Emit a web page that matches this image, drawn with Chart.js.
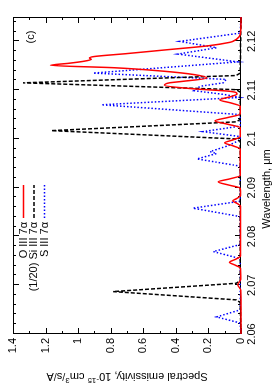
<!DOCTYPE html>
<html>
<head>
<meta charset="utf-8">
<script src="https://cdn.jsdelivr.net/npm/chart.js@4.4.1/dist/chart.umd.min.js"></script>
<style>
  html, body { margin: 0; padding: 0; background: #fff; }
  #page { position: relative; width: 274px; height: 390px; overflow: hidden; }
  /* the plot is drawn landscape and turned a quarter turn counter-clockwise */
  #wrap { position: absolute; left: 0; top: 0; width: 390px; height: 274px;
          transform-origin: 0 0; transform: translateY(390px) rotate(-90deg); }
</style>
</head>
<body>
<div id="page"><div id="wrap"><canvas id="chart" width="390" height="274"></canvas></div></div>
<script>
// axis ticks
const xTicks = [2.06, 2.07, 2.08, 2.09, 2.10, 2.11, 2.12];
const yTicks = [0, 0.2, 0.4, 0.6, 0.8, 1.0, 1.2, 1.4];

// O III 7alpha
const oWave = [2.0600, 2.0690, 2.0701, 2.0712, 2.0735, 2.0741, 2.0747, 2.0753, 2.0760,
  2.0862, 2.0868, 2.0873, 2.0878, 2.0884, 2.0899, 2.0905, 2.0912, 2.0918, 2.0925,
  2.0979, 2.0986, 2.0992, 2.0998, 2.1005, 2.1023, 2.1030, 2.1037, 2.1044, 2.1051,
  2.1067, 2.1074, 2.1080, 2.1087, 2.1092, 2.1095, 2.1098, 2.1103, 2.1110, 2.1115,
  2.1118, 2.1125, 2.1132, 2.1139, 2.1146, 2.1151, 2.1155, 2.1159, 2.1163, 2.1166,
  2.1169, 2.1175, 2.1183, 2.1191, 2.1198, 2.1200, 2.1210, 2.1218, 2.1250];
const oValue = [0, 0.002, 0.02, 0.002, 0.003, 0.035, 0.07, 0.035, 0.003,
  0.003, 0.025, 0.05, 0.025, 0.003, 0.005, 0.07, 0.14, 0.07, 0.005,
  0.004, 0.05, 0.10, 0.05, 0.004, 0.005, 0.08, 0.16, 0.08, 0.005,
  0.005, 0.065, 0.13, 0.06, 0.025, 0.03, 0.08, 0.30, 0.47, 0.44,
  0.36, 0.21, 0.29, 0.48, 0.78, 1.17, 1.06, 0.97, 0.92, 0.93,
  0.90, 0.70, 0.45, 0.20, 0.07, 0.05, 0.01, 0.003, 0];

// Si III 7alpha, scaled by 1/20
const siWave = [2.0600, 2.0665, 2.0670, 2.0687, 2.0704, 2.0709,
  2.0995, 2.1000, 2.1017, 2.1035, 2.1040,
  2.1096, 2.1101, 2.1115, 2.1130, 2.1135, 2.1250];
const siValue = [0, 0.005, 0.03, 0.786, 0.03, 0.005,
  0.005, 0.03, 1.165, 0.03, 0.005,
  0.005, 0.03, 1.338, 0.03, 0.005, 0];

// S III 7alpha
const sWave = [2.0600, 2.0621, 2.0623, 2.0635, 2.0649, 2.0652,
  2.0753, 2.0755, 2.0769, 2.0783, 2.0786,
  2.0838, 2.0841, 2.0858, 2.0872, 2.0875,
  2.0943, 2.0945, 2.0959, 2.0970, 2.0974, 2.0986, 2.0998,
  2.1003, 2.1005, 2.1015, 2.1026, 2.1028,
  2.1048, 2.1050, 2.1070, 2.1085, 2.1091, 2.1099, 2.1108, 2.1115, 2.1122,
  2.1135, 2.1158, 2.1174, 2.1187, 2.1200, 2.1217, 2.1250];
const sValue = [0, 0.005, 0.01, 0.15, 0.01, 0.005,
  0.005, 0.01, 0.17, 0.01, 0.005,
  0.005, 0.01, 0.295, 0.01, 0.005,
  0.005, 0.02, 0.27, 0.15, 0.19, 0.08, 0.005,
  0.005, 0.01, 0.233, 0.01, 0.005,
  0.005, 0.01, 0.857, 0.01, 0.10, 0.29, 0.25, 0.11, 0.09,
  0.908, 0.02, 0.387, 0.15, 0.376, 0.005, 0];

const FONT = '"Liberation Sans", Arial, sans-serif';
const xMinorStep = 0.002;
const yMinorStep = 0.1;

function toPoints(xs, ys) {
  return xs.map((x, i) => ({ x: x, y: ys[i] }));
}

function fmt(v) {
  return String(+v.toFixed(3));
}

// gnuplot style border with inward ticks on all four sides
const frame = {
  id: 'frame',
  beforeDatasetsDraw(chart) {
    const { ctx, chartArea: a, scales } = chart;
    const x = scales.x, y = scales.y;
    ctx.save();
    ctx.strokeStyle = '#000';
    ctx.lineWidth = 1;
    ctx.strokeRect(a.left + 0.5, a.top + 0.5, a.right - a.left - 1, a.bottom - a.top - 1);
    ctx.beginPath();
    for (let i = 0; ; i++) {
      const v = x.min + i * xMinorStep;
      if (v > x.max + 1e-9) break;
      const major = xTicks.some(t => Math.abs(t - v) < 1e-6);
      const len = major ? 6 : 3;
      const px = Math.round(x.getPixelForValue(v)) + 0.5;
      ctx.moveTo(px, a.bottom); ctx.lineTo(px, a.bottom - len);
      ctx.moveTo(px, a.top); ctx.lineTo(px, a.top + len);
    }
    for (let i = 0; ; i++) {
      const v = y.min + i * yMinorStep;
      if (v > y.max + 1e-9) break;
      const major = yTicks.some(t => Math.abs(t - v) < 1e-6);
      const len = major ? 6 : 3;
      const py = Math.round(y.getPixelForValue(v)) + 0.5;
      ctx.moveTo(a.left, py); ctx.lineTo(a.left + len, py);
      ctx.moveTo(a.right, py); ctx.lineTo(a.right - len, py);
    }
    ctx.stroke();
    ctx.restore();
  }
};

// key, panel letter and axis titles
const labels = {
  id: 'labels',
  afterDatasetsDraw(chart) {
    const ctx = chart.ctx;
    ctx.save();
    ctx.fillStyle = '#000';
    ctx.font = '11px ' + FONT;
    ctx.textBaseline = 'middle';

    chart.data.datasets.forEach((ds, i) => {
      const yy = 23.5 + i * 10.5;
      ctx.textAlign = 'right';
      ctx.fillText(ds.label, 168, yy);
      ctx.beginPath();
      ctx.strokeStyle = ds.borderColor;
      ctx.lineWidth = ds.borderWidth;
      ctx.setLineDash(ds.borderDash || []);
      ctx.moveTo(172, yy);
      ctx.lineTo(205, yy);
      ctx.stroke();
    });
    ctx.setLineDash([]);

    ctx.textAlign = 'center';
    ctx.fillText('(c)', 353, 31);

    ctx.fillText('Wavelength, \u03bcm', 201, 267);

    // y title with superscripts
    const parts = [
      ['Spectral emissivity, 10', false], ['-15', true], [' cm', false],
      ['3', true], ['/s/A', false]
    ];
    const big = '11px ' + FONT, small = '8px ' + FONT;
    let total = 0;
    parts.forEach(p => { ctx.font = p[1] ? small : big; total += ctx.measureText(p[0]).width; });
    ctx.translate(14, 127);
    ctx.rotate(-Math.PI / 2);
    ctx.textAlign = 'left';
    let cx = -total / 2;
    parts.forEach(p => {
      ctx.font = p[1] ? small : big;
      ctx.fillText(p[0], cx, p[1] ? -4 : 0);
      cx += ctx.measureText(p[0]).width;
    });
    ctx.restore();
  }
};

Chart.defaults.font.family = FONT;
Chart.defaults.font.size = 11;
Chart.defaults.color = '#000';

new Chart(document.getElementById('chart').getContext('2d'), {
  type: 'line',
  data: {
    datasets: [{
      label: 'O III 7\u03b1',
      data: toPoints(oWave, oValue),
      borderColor: '#ff0000',
      borderWidth: 1.5,
      cubicInterpolationMode: 'monotone',
      pointRadius: 0,
      clip: 3
    }, {
      label: '(1/20) Si III 7\u03b1',
      data: toPoints(siWave, siValue),
      borderColor: '#000000',
      borderWidth: 1.5,
      borderDash: [4, 2],
      tension: 0,
      pointRadius: 0,
      clip: 3
    }, {
      label: 'S III 7\u03b1',
      data: toPoints(sWave, sValue),
      borderColor: '#0000ff',
      borderWidth: 1.5,
      borderDash: [1.5, 2],
      tension: 0,
      pointRadius: 0,
      clip: 3
    }]
  },
  options: {
    responsive: false,
    animation: false,
    events: [],
    layout: { padding: { top: 13, right: 17, left: 0, bottom: 0 } },
    plugins: { legend: { display: false }, tooltip: { enabled: false } },
    scales: {
      x: {
        type: 'linear',
        min: 2.06,
        max: 2.125,
        grid: { display: false, drawTicks: false },
        border: { display: false },
        ticks: { padding: 4, maxRotation: 0, callback: fmt },
        afterBuildTicks: s => { s.ticks = xTicks.map(v => ({ value: v })); },
        afterFit: s => { s.height = 33; }
      },
      y: {
        type: 'linear',
        min: 0,
        max: 1.4,
        grid: { display: false, drawTicks: false },
        border: { display: false },
        ticks: { padding: 4, callback: fmt },
        afterBuildTicks: s => { s.ticks = yTicks.map(v => ({ value: v })); },
        afterFit: s => { s.width = 56; }
      }
    }
  },
  plugins: [frame, labels]
});
</script>
</body>
</html>
